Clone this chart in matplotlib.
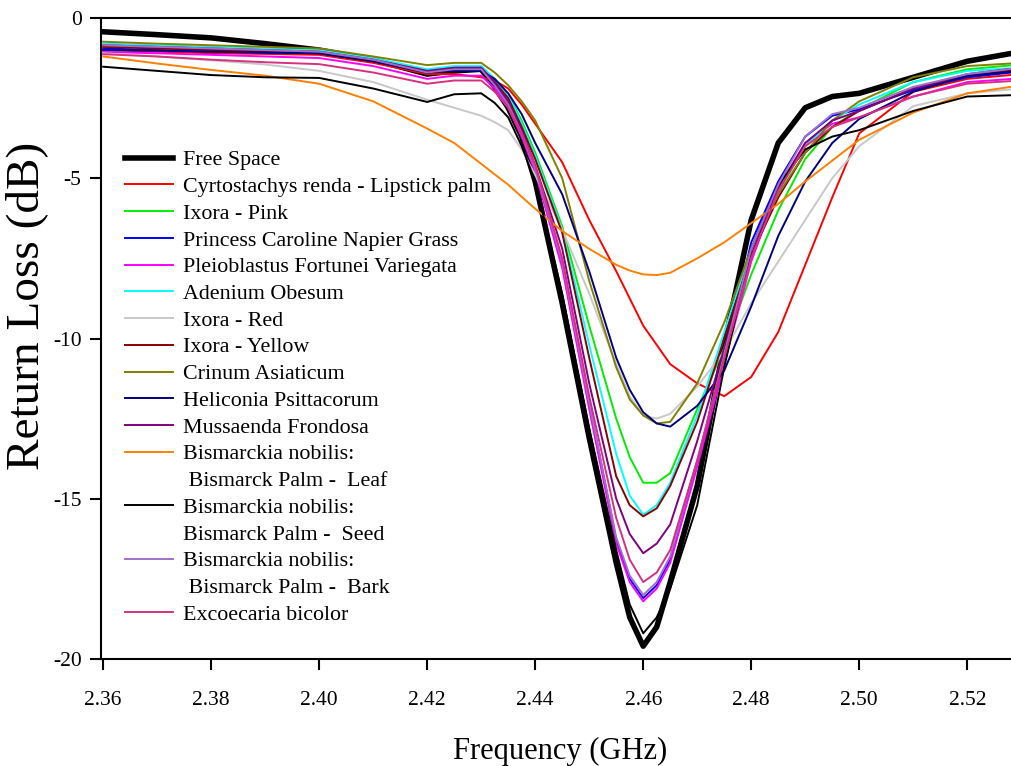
import matplotlib
matplotlib.use("Agg")
import matplotlib.pyplot as plt
from matplotlib.lines import Line2D

plt.rcParams['font.family'] = ['Liberation Serif', 'DejaVu Serif']
plt.rcParams['axes.unicode_minus'] = False

# frequency points (GHz)
freq = [2.36, 2.37, 2.38, 2.39, 2.40, 2.41, 2.42, 2.425, 2.43, 2.4325, 2.435, 2.4375,
        2.44, 2.445, 2.45, 2.455, 2.4575, 2.46, 2.4625, 2.465, 2.47, 2.475, 2.48,
        2.485, 2.49, 2.495, 2.50, 2.51, 2.52, 2.53]

# return loss (dB) for each sample
free_space = [-0.43, -0.52, -0.62, -0.8, -1.0, -1.3, -1.75, -1.65, -1.6, -2.15, -2.8, -3.7,
              -5.1, -8.9, -13.1, -17.0, -18.7, -19.6, -19.0, -17.6, -14.6, -10.2, -6.3,
              -3.9, -2.8, -2.45, -2.35, -1.85, -1.35, -1.05]
lipstick_palm = [-1.0, -1.05, -1.1, -1.12, -1.15, -1.4, -1.75, -1.75, -1.85, -1.95, -2.2, -2.7,
                 -3.3, -4.5, -6.3, -7.9, -8.75, -9.6, -10.2, -10.8, -11.4, -11.8, -11.2,
                 -9.8, -7.7, -5.6, -3.6, -2.3, -1.9, -1.75]
ixora_pink = [-0.87, -0.92, -0.97, -1.0, -1.05, -1.3, -1.65, -1.55, -1.55, -1.9, -2.4, -3.2,
              -4.2, -6.5, -9.6, -12.5, -13.7, -14.5, -14.5, -14.2, -12.2, -10.3, -8.0,
              -6.0, -4.4, -3.4, -2.85, -2.0, -1.6, -1.45]
napier_grass = [-0.95, -1.0, -1.05, -1.08, -1.1, -1.35, -1.7, -1.6, -1.6, -2.1, -2.7, -3.6,
                -4.7, -7.6, -12.0, -16.3, -17.5, -18.1, -17.7, -16.9, -13.9, -10.6, -7.0,
                -5.1, -3.7, -3.05, -2.85, -2.25, -1.85, -1.67]
pleioblastus = [-1.06, -1.1, -1.15, -1.2, -1.25, -1.5, -1.9, -1.8, -1.8, -2.2, -2.8, -3.7,
                -4.8, -7.8, -12.2, -16.4, -17.6, -18.2, -17.8, -17.0, -14.0, -10.8, -7.6,
                -5.3, -3.9, -3.3, -3.1, -2.45, -2.0, -1.88]
adenium = [-0.8, -0.85, -0.9, -0.95, -1.0, -1.25, -1.6, -1.5, -1.5, -1.9, -2.4, -3.3,
           -4.3, -6.6, -10.2, -13.6, -14.9, -15.5, -15.2, -14.5, -12.4, -9.8, -7.2,
           -5.4, -4.0, -3.2, -2.7, -2.0, -1.65, -1.55]
ixora_red = [-1.1, -1.2, -1.32, -1.45, -1.65, -2.0, -2.55, -2.8, -3.05, -3.25, -3.5, -4.1,
             -4.9, -6.6, -8.6, -10.8, -11.8, -12.4, -12.5, -12.35, -11.5, -10.4, -8.9,
             -7.6, -6.3, -5.0, -4.0, -2.75, -2.35, -2.2]
ixora_yellow = [-0.9, -0.95, -1.0, -1.05, -1.1, -1.35, -1.7, -1.6, -1.6, -2.0, -2.5, -3.4,
                -4.4, -6.7, -10.6, -14.3, -15.2, -15.55, -15.3, -14.6, -12.6, -10.0, -7.4,
                -5.6, -4.2, -3.4, -2.9, -2.2, -1.8, -1.6]
crinum = [-0.74, -0.8, -0.85, -0.9, -0.95, -1.2, -1.47, -1.4, -1.4, -1.7, -2.1, -2.6,
          -3.2, -5.0, -8.2, -10.9, -11.9, -12.4, -12.65, -12.6, -11.4, -9.5, -7.2,
          -5.5, -4.2, -3.2, -2.6, -1.85, -1.5, -1.4]
heliconia = [-1.0, -1.02, -1.05, -1.08, -1.1, -1.35, -1.7, -1.65, -1.65, -1.9, -2.35, -3.0,
             -3.9, -5.5, -7.9, -10.6, -11.6, -12.3, -12.65, -12.75, -12.1, -11.0, -9.0,
             -6.8, -5.1, -3.9, -3.15, -2.3, -1.8, -1.65]
mussaenda = [-0.85, -0.9, -0.95, -1.0, -1.05, -1.3, -1.65, -1.55, -1.55, -2.0, -2.6, -3.5,
             -4.6, -7.2, -11.4, -15.0, -16.1, -16.7, -16.4, -15.8, -13.2, -10.3, -7.4,
             -5.3, -3.9, -3.2, -2.9, -2.2, -1.75, -1.55]
bismarck_leaf = [-1.2, -1.42, -1.62, -1.8, -2.05, -2.6, -3.45, -3.9, -4.55, -4.88, -5.2, -5.58,
                 -5.95, -6.65, -7.2, -7.7, -7.88, -8.0, -8.02, -7.95, -7.5, -7.0, -6.4,
                 -5.8, -5.1, -4.45, -3.8, -2.95, -2.35, -2.1]
bismarck_seed = [-1.52, -1.65, -1.78, -1.85, -1.87, -2.2, -2.62, -2.38, -2.35, -2.65, -3.1, -4.0,
                 -5.1, -8.6, -12.8, -16.6, -18.3, -19.2, -18.7, -17.8, -15.2, -10.9, -7.2,
                 -5.2, -4.1, -3.7, -3.5, -2.9, -2.45, -2.4]
bismarck_bark = [-0.85, -0.9, -0.95, -1.0, -1.05, -1.3, -1.7, -1.6, -1.6, -2.1, -2.7, -3.6,
                 -4.7, -7.6, -12.0, -16.2, -17.4, -18.0, -17.6, -16.8, -13.8, -10.5, -7.2,
                 -5.2, -3.7, -3.0, -2.8, -2.15, -1.75, -1.55]
excoecaria = [-1.13, -1.2, -1.3, -1.38, -1.44, -1.7, -2.05, -1.95, -1.95, -2.3, -2.8, -3.6,
              -4.6, -7.5, -11.8, -15.6, -16.9, -17.6, -17.3, -16.6, -13.8, -10.6, -7.5,
              -5.4, -4.0, -3.4, -3.1, -2.45, -2.05, -1.95]

# (legend label, values, colour, width)
series = [
    ("Free Space", free_space, "black", 4.0),
    ("Cyrtostachys renda - Lipstick palm", lipstick_palm, "#FF0000", 1.4),
    ("Ixora - Pink", ixora_pink, "#00EE00", 1.4),
    ("Princess Caroline Napier Grass", napier_grass, "#0000FF", 1.4),
    ("Pleioblastus Fortunei Variegata", pleioblastus, "#FF00FF", 1.4),
    ("Adenium Obesum", adenium, "#00FFFF", 1.4),
    ("Ixora - Red", ixora_red, "#C8C8C8", 1.4),
    ("Ixora - Yellow", ixora_yellow, "#8B0000", 1.4),
    ("Crinum Asiaticum", crinum, "#808000", 1.4),
    ("Heliconia Psittacorum", heliconia, "#000080", 1.4),
    ("Mussaenda Frondosa", mussaenda, "#800080", 1.4),
    ("Bismarckia nobilis:\n Bismarck Palm -  Leaf", bismarck_leaf, "#FF8000", 1.4),
    ("Bismarckia nobilis:\nBismarck Palm -  Seed", bismarck_seed, "black", 1.4),
    ("Bismarckia nobilis:\n Bismarck Palm -  Bark", bismarck_bark, "#A070C8", 1.4),
    ("Excoecaria bicolor", excoecaria, "#D6317F", 1.4),
]

fig = plt.figure(figsize=(10.11, 7.66), dpi=100)
ax = fig.add_axes([101 / 1011, 107 / 766, 910 / 1011, 641 / 766])

handles = []
labels = []
for label, vals, color, lw in series:
    ax.plot(freq, vals, color=color, lw=lw, solid_joinstyle='round')
    parts = label.split("\n")
    handles.append(Line2D([], [], color=color, lw=lw))
    labels.append(parts[0])
    for extra in parts[1:]:
        # second line of a two-line label, no handle
        handles.append(Line2D([], [], color='none', lw=0))
        labels.append(extra)

ax.set_xlim(2.3596, 2.5281)
ax.set_ylim(-20, 0)
ax.set_xticks([2.36, 2.38, 2.40, 2.42, 2.44, 2.46, 2.48, 2.50, 2.52])
ax.set_xticklabels(["2.36", "2.38", "2.40", "2.42", "2.44", "2.46", "2.48", "2.50", "2.52"])
ax.set_yticks([0, -5, -10, -15, -20])
ax.set_yticklabels(["0", "-5", "-10", "-15", "-20"])
ax.tick_params(direction='out', length=8, width=1.5, labelsize=15.5)
ax.tick_params(axis='x', pad=15)
ax.tick_params(axis='y', pad=6)

for side in ['left', 'bottom', 'top']:
    ax.spines[side].set_linewidth(1.5)
ax.spines['right'].set_visible(False)

ax.set_xlabel("Frequency (GHz)", fontsize=22)
ax.xaxis.set_label_coords(0.505, -0.121)
ax.set_ylabel("Return Loss (dB)", fontsize=34)
ax.yaxis.set_label_coords(-0.058, 0.551)

ax.legend(handles, labels, loc='upper left', bbox_to_anchor=(0.026, 0.794),
          frameon=False, fontsize=15.8, handlelength=2.2, handletextpad=0.45,
          labelspacing=0.29, borderpad=0, borderaxespad=0)

fig.savefig("out.png", dpi=100)
